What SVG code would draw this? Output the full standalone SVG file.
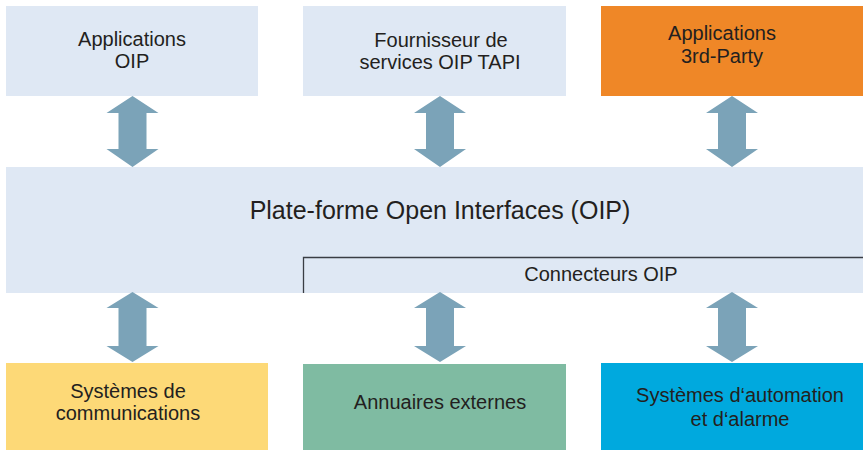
<svg xmlns="http://www.w3.org/2000/svg" width="863" height="450" viewBox="0 0 863 450">
<style>
text{font-family:"Liberation Sans",Arial,sans-serif;fill:#231f20;text-anchor:middle;font-size:20px}
.lb{fill:#dfe8f4}
.arr{fill:#7ba3b8}
</style>
<defs>
<path id="a1" d="M0,0 L26,17 L14,17 L14,53 L26,53 L0,71 L-26,53 L-14,53 L-14,17 L-26,17 Z"/>
<path id="a2" d="M0,0 L26,16 L14,16 L14,54 L26,54 L0,70 L-26,54 L-14,54 L-14,16 L-26,16 Z"/>
</defs>
<rect width="863" height="450" fill="#ffffff"/>
<g id="platform">
<rect class="lb" x="6" y="167" width="857" height="126"/>
<text x="440" y="219" style="font-size:25px">Plate-forme Open Interfaces (OIP)</text>
<path d="M303.5,293 V257.5 H863" fill="none" stroke="#3a3d44" stroke-width="1.3"/>
<text x="601" y="281">Connecteurs OIP</text>
</g>
<g id="apps-oip">
<rect class="lb" x="6" y="6" width="252" height="90"/>
<text x="132" y="46">Applications</text>
<text x="132" y="68">OIP</text>
</g>
<g id="tapi">
<rect class="lb" x="303" y="6" width="263" height="90"/>
<text x="441" y="47">Fournisseur de</text>
<text x="440" y="69">services OIP TAPI</text>
</g>
<g id="third-party">
<rect x="601" y="6" width="262" height="90" fill="#ef8727"/>
<text x="722" y="40">Applications</text>
<text x="722" y="63">3rd-Party</text>
</g>
<g id="comms">
<rect x="6" y="363" width="262" height="87" fill="#fdd977"/>
<text x="128" y="398">Systèmes de</text>
<text x="128" y="420">communications</text>
</g>
<g id="annuaires">
<rect x="303" y="364" width="263" height="86" fill="#7fbba2"/>
<text x="440" y="409">Annuaires externes</text>
</g>
<g id="automation">
<rect x="601" y="363" width="262" height="87" fill="#00a9de"/>
<text x="740" y="402">Systèmes d‘automation</text>
<text x="740" y="426">et d‘alarme</text>
</g>
<g id="connectors" class="arr">
<use href="#a1" x="132.5" y="96"/>
<use href="#a1" x="440" y="96"/>
<use href="#a1" x="732" y="96"/>
<use href="#a2" x="132.5" y="292"/>
<use href="#a2" x="440" y="292"/>
<use href="#a2" x="732" y="292"/>
</g>
</svg>
